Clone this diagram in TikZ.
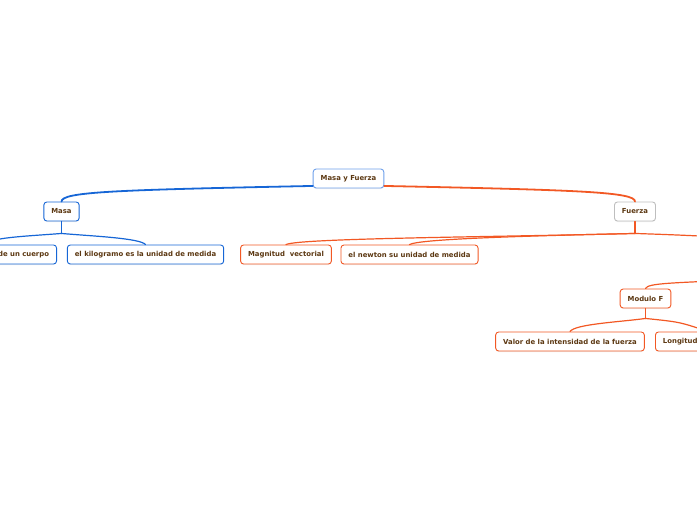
\documentclass[tikz,border=0pt]{standalone}
\usepackage{fontspec}
\setsansfont{DejaVu Sans}
\usetikzlibrary{shadows}
\definecolor{mfblue}{RGB}{22,102,214}
\definecolor{mflight}{RGB}{110,160,235}
\definecolor{mforange}{RGB}{242,88,36}
\definecolor{mftext}{RGB}{92,56,18}
\definecolor{mfgray}{RGB}{190,190,190}

\begin{document}
\begin{tikzpicture}[x=1pt,y=-1pt,
  topic/.style={draw, rounded corners=3pt, fill=white, minimum height=19pt,
    inner xsep=7.5pt, inner ysep=0pt, line width=0.9pt, text=mftext,
    font=\sffamily\bfseries\fontsize{6.9}{8}\selectfont,
    drop shadow={opacity=0.12, shadow xshift=0pt, shadow yshift=-1pt}},
  mainlink/.style={line width=1.8pt, line cap=round},
  sublink/.style={line width=1.2pt, line cap=round}]

\useasboundingbox (0,0) rectangle (697,520);

%---------------------------------------
% Topics
%---------------------------------------
\node[topic, draw=mflight] (root) at (348.5,178.5) {Masa y Fuerza};

\node[topic, draw=mfblue] (masa) at (61.5,211.5) {Masa};
\node[topic, draw=mfgray] (fuerza) at (635,211.5) {Fuerza};

% Masa subtopics (first one runs off the left edge)
\node[topic, draw=mfblue, anchor=east, text width=110pt, align=right]
  (cuerpo) at (57,254.5) {de un cuerpo};
\node[topic, draw=mfblue] (kilo) at (145.5,254.5) {el kilogramo es la unidad de medida};

% Fuerza subtopics
\node[topic, draw=mforange] (magnitud) at (286,254.5) {Magnitud\ \ vectorial};
\node[topic, draw=mforange] (newton) at (409.5,254.5) {el newton su unidad de medida};

% Modulo F and its subtopics (Longitud runs off the right edge)
\node[topic, draw=mforange] (modulo) at (645.5,298.5) {Modulo F};
\node[topic, draw=mforange] (valor) at (570,341.5) {Valor de la intensidad de la fuerza};
\node[topic, draw=mforange, anchor=west, text width=90pt, align=left]
  (longitud) at (655,341.5) {Longitud};

% off-canvas ends
\coordinate (fuerzaR) at (760,239);
\coordinate (moduloP) at (760,279);

%---------------------------------------
% Links
%---------------------------------------
\draw[mainlink, mfblue] ([yshift=2.5pt]root.south west)
  .. controls (110,190) and (62,192) .. (masa.north);
\draw[mainlink, mforange] ([yshift=2.5pt]root.south east)
  .. controls (580,190) and (635,192) .. (fuerza.north);

% Masa
\draw[sublink, mfblue] (masa.south) -- ++(0,12) coordinate (masaJ);
\draw[sublink, mfblue] (masaJ) .. controls (90,236) and (140,238) .. (kilo.north);
\draw[sublink, mfblue] (masaJ) .. controls (30,236) and (-20,238) .. (cuerpo.north);

% Fuerza
\draw[sublink, mforange] (fuerza.south) -- ++(0,12) coordinate (fuerzaJ);
\draw[sublink, mforange] (fuerzaJ) .. controls (500,237) and (300,238) .. (magnitud.north);
\draw[sublink, mforange] (fuerzaJ) .. controls (520,236) and (420,239) .. (newton.north);
\draw[sublink, mforange] (fuerzaJ) .. controls (680,235) .. (fuerzaR);

% Modulo F
\draw[sublink, mforange] (moduloP) .. controls (670,283) and (648,283) .. (modulo.north);
\draw[sublink, mforange] (modulo.south) -- ++(0,10) coordinate (moduloJ);
\draw[sublink, mforange] (moduloJ) .. controls (620,322) and (575,324) .. (valor.north);
\draw[sublink, mforange] (moduloJ) .. controls (680,322) .. (longitud.north);

\end{tikzpicture}
\end{document}
